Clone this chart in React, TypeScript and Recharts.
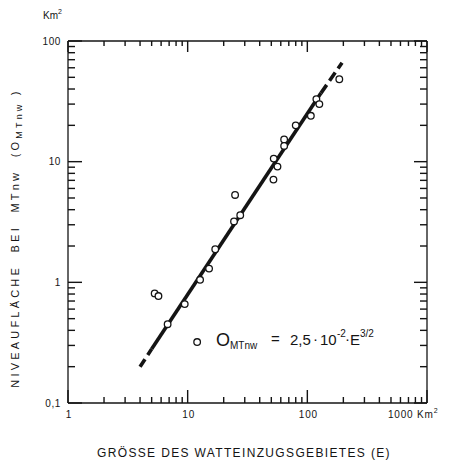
import React from 'react'
import { ScatterChart, Scatter, XAxis, YAxis } from 'recharts'

// Grösse des Watteinzugsgebietes E (km²) und Niveaufläche bei MTnw (km²)
const areaE = [185, 119, 126, 107, 80, 64, 64, 52.4, 56.3, 52.1, 24.9, 27.5, 24.4, 17.0, 15.1, 12.7, 9.45, 6.8, 5.3, 5.7, 12.0]
const areaO = [48.2, 33, 30, 24, 20, 15.3, 13.5, 10.6, 9.1, 7.1, 5.3, 3.6, 3.2, 1.88, 1.3, 1.05, 0.66, 0.45, 0.81, 0.77, 0.32]

const fitE = [4, 5, 130, 195]
const fitO = [0.2, 0.28, 37, 66]

const xTicks = [1, 2, 3, 4, 5, 6, 7, 8, 9, 10, 20, 30, 40, 50, 60, 70, 80, 90, 100, 200, 300, 400, 500, 600, 700, 800, 900, 1000]
const yTicks = [0.1, 0.2, 0.3, 0.4, 0.5, 0.6, 0.7, 0.8, 0.9, 1, 2, 3, 4, 5, 6, 7, 8, 9, 10, 20, 30, 40, 50, 60, 70, 80, 90, 100]
const xLabels: Record<string, string> = { '1': '1', '10': '10', '100': '100', '1000': '1000' }
const yLabels: Record<string, string> = { '0.1': '0,1', '1': '1', '10': '10', '100': '100' }

const INK = '#141414'
const FONT = '"Liberation Sans", Arial, sans-serif'
const TW = 1.4

const points = areaE.map((e, i) => ({ e, o: areaO[i] }))
const fitLow = [0, 1].map(i => ({ e: fitE[i], o: fitO[i] }))
const fitMid = [1, 2].map(i => ({ e: fitE[i], o: fitO[i] }))
const fitHigh = [2, 3].map(i => ({ e: fitE[i], o: fitO[i] }))

const isMajor = (v: number) => [0.1, 1, 10, 100, 1000].includes(Number(v))

// ticks point inward on all four sides, drawn as thin filled rects
const BottomTick = (p: any) => {
  const v = Number(p.payload.value)
  const len = isMajor(v) ? 13 : 6
  const lab = xLabels[String(v)]
  return (
    <g>
      <rect x={p.x - TW / 2} y={p.y - len} width={TW} height={len} fill={INK} stroke="none" />
      {lab && v !== 1000 && (
        <text x={p.x + 1} y={p.y + 15} textAnchor="middle" fontSize={10} letterSpacing={0.8} fill={INK} stroke="none" fontFamily={FONT}>{lab}</text>
      )}
      {v === 1000 && (
        <text x={p.x - 39} y={p.y + 15} fontSize={10} letterSpacing={0.8} fill={INK} stroke="none" fontFamily={FONT}>
          {lab} Km<tspan fontSize={7} dy={-5}>2</tspan>
        </text>
      )}
    </g>
  )
}

const TopTick = (p: any) => {
  const len = isMajor(p.payload.value) ? 11 : 5
  return <rect x={p.x - TW / 2} y={p.y} width={TW} height={len} fill={INK} stroke="none" />
}

const LeftTick = (p: any) => {
  const v = Number(p.payload.value)
  const len = isMajor(v) ? 14 : 7
  const lab = yLabels[String(v)]
  return (
    <g>
      <rect x={p.x} y={p.y - TW / 2} width={len} height={TW} fill={INK} stroke="none" />
      {lab && (
        <text x={p.x - 7} y={p.y + 3.5} textAnchor="end" fontSize={10} letterSpacing={0.6} fill={INK} stroke="none" fontFamily={FONT}>{lab}</text>
      )}
    </g>
  )
}

const RightTick = (p: any) => {
  const len = isMajor(p.payload.value) ? 13 : 7
  return <rect x={p.x - len} y={p.y - TW / 2} width={len} height={TW} fill={INK} stroke="none" />
}

const Circle = (p: any) => (
  <circle cx={p.cx} cy={p.cy} r={3.3} fill="#fff" stroke={INK} strokeWidth={1.3} />
)
const NoShape = () => <g />

export default function App() {
  return (
    <div style={{ position: 'absolute', left: 0, top: 0, width: 462, height: 466, background: '#fff' }}>
      <ScatterChart width={462} height={466} margin={{ top: 31, right: 25, bottom: 33, left: 28 }}>
        <XAxis xAxisId="b" type="number" dataKey="e" scale="log" domain={[1, 1000]} allowDataOverflow
          ticks={xTicks} interval={0} height={30} tickSize={0} tickMargin={0} tickLine={false}
          axisLine={{ stroke: INK, strokeWidth: 1.3 }} tick={BottomTick} />
        <XAxis xAxisId="t" orientation="top" type="number" dataKey="e" scale="log" domain={[1, 1000]} allowDataOverflow
          ticks={xTicks} interval={0} height={10} tickSize={0} tickMargin={0} tickLine={false}
          axisLine={{ stroke: INK, strokeWidth: 1.3 }} tick={TopTick} />
        <YAxis yAxisId="l" type="number" dataKey="o" scale="log" domain={[0.1, 100]} allowDataOverflow
          ticks={yTicks} interval={0} width={40} tickSize={0} tickMargin={0} tickLine={false}
          axisLine={{ stroke: INK, strokeWidth: 1.3 }} tick={LeftTick} />
        <YAxis yAxisId="r" orientation="right" type="number" dataKey="o" scale="log" domain={[0.1, 100]} allowDataOverflow
          ticks={yTicks} interval={0} width={10} tickSize={0} tickMargin={0} tickLine={false}
          axisLine={{ stroke: INK, strokeWidth: 1.3 }} tick={RightTick} />
        <Scatter xAxisId="t" yAxisId="r" data={fitLow} shape={NoShape} isAnimationActive={false}
          line={{ stroke: INK, strokeWidth: 3.6, strokeDasharray: '9 5' }} />
        <Scatter xAxisId="t" yAxisId="r" data={fitMid} shape={NoShape} isAnimationActive={false}
          line={{ stroke: INK, strokeWidth: 3.6 }} />
        <Scatter xAxisId="t" yAxisId="r" data={fitHigh} shape={NoShape} isAnimationActive={false}
          line={{ stroke: INK, strokeWidth: 3.6, strokeDasharray: '10 5' }} />
        <Scatter xAxisId="b" yAxisId="l" data={points} shape={Circle} isAnimationActive={false} />
      </ScatterChart>
      <svg width={462} height={466} style={{ position: 'absolute', left: 0, top: 0, pointerEvents: 'none' }}
        fontFamily={FONT} fill={INK}>
        <text x={43} y={19} fontSize={10}>Km<tspan fontSize={7} dy={-5}>2</tspan></text>
        <text x={244} y={457} textAnchor="middle" fontSize={12} letterSpacing={1.35}>
          GRÖSSE DES WATTEINZUGSGEBIETES (E)
        </text>
        <text transform="translate(19,238) rotate(-90)" textAnchor="middle" fontSize={11} letterSpacing={3.2}
          style={{ whiteSpace: 'pre' }}>
          {'NIVEAUFLÄCHE  BEI  MTnw  (O'}<tspan fontSize={9} dy={3}>MTnw</tspan><tspan dy={-3}>{' )'}</tspan>
        </text>
        <text fontSize={16}>
          <tspan x={216} y={346} fontSize={18}>O</tspan>
          <tspan x={230} y={349} fontSize={10}>MTnw</tspan>
          <tspan x={271} y={344} fontSize={15}>=</tspan>
          <tspan x={290} y={345} fontSize={15}>2,5</tspan>
          <tspan x={313} y={344} fontSize={15}>·</tspan>
          <tspan x={320} y={345} fontSize={15}>10</tspan>
          <tspan x={337} y={337} fontSize={10}>-2</tspan>
          <tspan x={345} y={344} fontSize={15}>·</tspan>
          <tspan x={350} y={345} fontSize={15}>E</tspan>
          <tspan x={360} y={337} fontSize={10}>3/2</tspan>
        </text>
      </svg>
    </div>
  )
}
